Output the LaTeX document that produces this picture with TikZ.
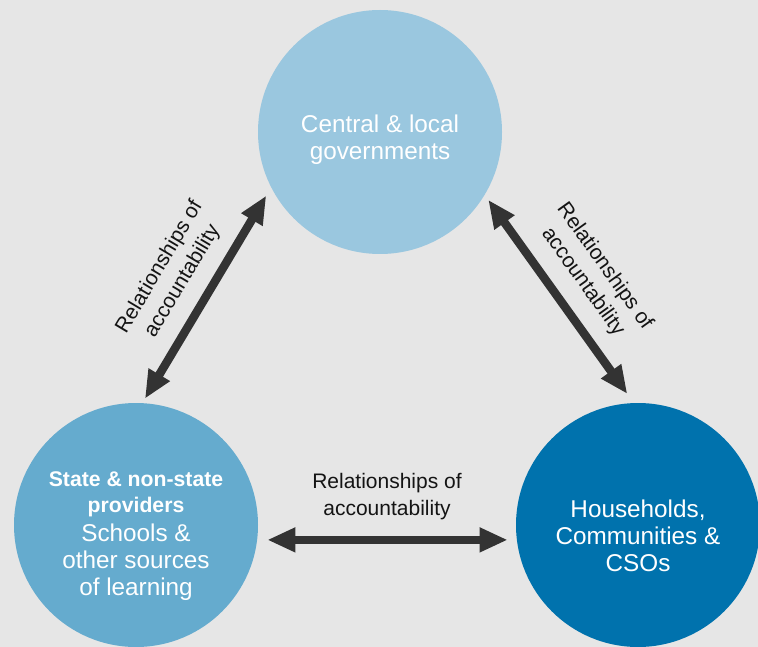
\documentclass[tikz,border=0pt]{standalone}
\usepackage{fontspec}
\setmainfont{Liberation Sans}
\usetikzlibrary{arrows.meta}
\definecolor{bgc}{HTML}{E6E6E6}
\definecolor{topc}{HTML}{9AC7DF}
\definecolor{blc}{HTML}{65ABCE}
\definecolor{brc}{HTML}{0072AD}
\definecolor{arrc}{HTML}{333333}
\definecolor{labc}{HTML}{141414}
\begin{document}
\begin{tikzpicture}[x=1pt,y=-1pt,
  circ/.style={circle, minimum size=244pt, inner sep=0pt, draw=none},
  ctext/.style={align=center, text=white, inner sep=0pt, font=\fontsize{24.3}{27}\selectfont},
  arr/.style={line width=8.5pt, draw=arrc, arrows={Triangle[width=23pt,length=28pt]-Triangle[width=23pt,length=28pt]}},
  lab/.style={align=center, text=labc, inner sep=0pt, font=\fontsize{21}{26.7}\selectfont}
]
\path[use as bounding box, fill=bgc] (0,0) rectangle (758,647);
\clip (0,0) rectangle (758,647);
\node[circ, fill=topc] (top) at (380,132) {};
\node[circ, fill=blc] (bl) at (136,525) {};
\node[circ, fill=brc] (br) at (638,525) {};
\node[ctext] (toptext) at (380,140) {Central \& local\\governments};
\node[ctext] (brtext) at (638,535.5) {Households,\\Communities \&\\CSOs};
\node[ctext] (bltext) at (136,536) {\bfseries\fontsize{21.2}{26}\selectfont State \& non-state\\[-1pt]\bfseries\fontsize{21.2}{26}\selectfont providers\\[2pt]Schools \&\\other sources\\of learning};
\draw[arr, shorten <=5pt, shorten >=9.5pt] (bl.87.3) -- node[lab, sloped, above=14pt, midway] (lablft) {Relationships of\\accountability} (top.207);
\draw[arr, shorten <=6pt, shorten >=11pt] (top.329.4) -- node[lab, sloped, above=15pt, midway] (labrgt) {Relationships of\\accountability} (br.92.6);
\draw[arr, shorten <=10pt, shorten >=9pt] (bl.-7.8) -- node[lab, above=16pt, midway] (labbot) {Relationships of\\accountability} (br.187.8);
\end{tikzpicture}
\end{document}
